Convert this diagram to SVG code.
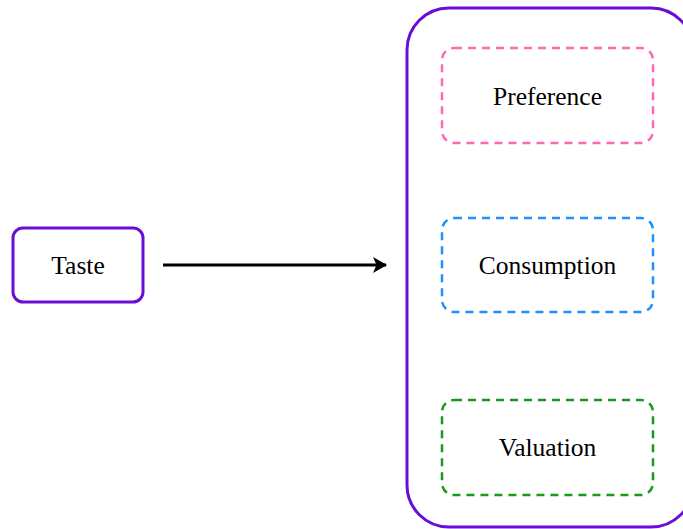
<svg xmlns="http://www.w3.org/2000/svg" width="683" height="529" viewBox="0 0 683 529">
<style>
.lbl{font-family:"Liberation Serif","DejaVu Serif",serif;font-size:25.5px;fill:#000;text-anchor:middle;dominant-baseline:central}
.solid{fill:#fff;stroke:#6a0dd6;stroke-width:3}
.dash{fill:#fff;stroke-width:2.5;stroke-dasharray:8 6}
</style>
<defs>
<marker id="ah" markerWidth="14" markerHeight="16" refX="13" refY="8" orient="auto" markerUnits="userSpaceOnUse" viewBox="0 0 14 16">
<path d="M0,0 L14,8 L0,16 L3.5,8 Z" fill="#000"/>
</marker>
</defs>
<rect width="683" height="529" fill="#fff"/>
<g id="container">
<rect class="solid" x="407" y="8" width="286" height="519" rx="42"/>
</g>
<g id="taste">
<rect class="solid" x="13" y="228" width="130" height="74" rx="10"/>
<text class="lbl" x="78" y="265">Taste</text>
</g>
<g id="preference">
<rect class="dash" x="442" y="48" width="211" height="95" rx="12" stroke="#ff69b4"/>
<text class="lbl" x="547.5" y="96">Preference</text>
</g>
<g id="consumption">
<rect class="dash" x="442" y="218" width="211" height="94" rx="12" stroke="#1e90ff"/>
<text class="lbl" x="547.5" y="265">Consumption</text>
</g>
<g id="valuation">
<rect class="dash" x="442" y="400" width="211" height="95" rx="12" stroke="#1a9a1a"/>
<text class="lbl" x="547.5" y="447">Valuation</text>
</g>
<g id="connectors">
<line x1="163" y1="265" x2="386" y2="265" stroke="#000" stroke-width="3" marker-end="url(#ah)"/>
</g>
</svg>
